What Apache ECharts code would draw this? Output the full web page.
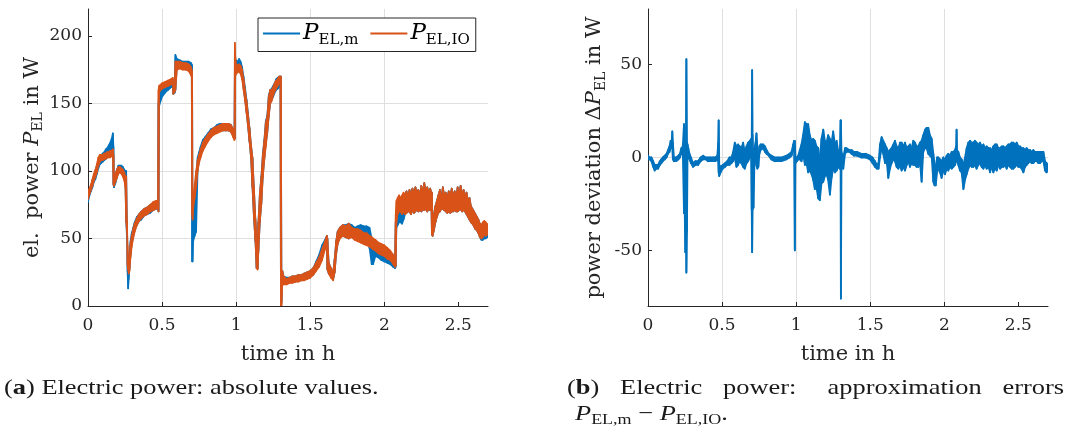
<!DOCTYPE html>
<html>
<head>
<meta charset="utf-8">
<script src="https://cdn.jsdelivr.net/npm/echarts@6/dist/echarts.min.js"></script>
<style>
  html, body { margin: 0; padding: 0; background: #ffffff; }
  #chart { width: 1075px; height: 444px; }
</style>
</head>
<body>
<div id="chart"></div>
<script>
// ---- (a) electric power, absolute values: lower/upper envelope of each noisy trace (W) ----
const hoursA = [
  0.000, 0.010, 0.020, 0.030, 0.040, 0.050, 0.060, 0.070, 0.080, 0.090,
  0.100, 0.110, 0.120, 0.130, 0.140, 0.150, 0.160, 0.168, 0.172, 0.175,
  0.185, 0.195, 0.205, 0.215, 0.225, 0.235, 0.245, 0.252, 0.258, 0.263,
  0.267, 0.271, 0.275, 0.280, 0.287, 0.295, 0.305, 0.315, 0.330, 0.345,
  0.360, 0.380, 0.400, 0.420, 0.440, 0.460, 0.472, 0.476, 0.480, 0.490,
  0.500, 0.520, 0.540, 0.560, 0.572, 0.576, 0.585, 0.590, 0.600, 0.620,
  0.640, 0.660, 0.680, 0.695, 0.700, 0.703, 0.706, 0.710, 0.720, 0.730,
  0.740, 0.750, 0.760, 0.775, 0.790, 0.810, 0.830, 0.850, 0.870, 0.890,
  0.910, 0.930, 0.950, 0.965, 0.980, 0.988, 0.991, 0.994, 1.000, 1.010,
  1.020, 1.030, 1.040, 1.050, 1.060, 1.070, 1.080, 1.090, 1.100, 1.110,
  1.120, 1.130, 1.138, 1.145, 1.150, 1.160, 1.170, 1.180, 1.190, 1.200,
  1.210, 1.220, 1.230, 1.240, 1.250, 1.260, 1.270, 1.280, 1.290, 1.298,
  1.302, 1.306, 1.312, 1.320, 1.340, 1.360, 1.380, 1.400, 1.420, 1.440,
  1.460, 1.480, 1.500, 1.520, 1.540, 1.560, 1.580, 1.600, 1.612, 1.616,
  1.625, 1.640, 1.655, 1.665, 1.675, 1.685, 1.700, 1.720, 1.740, 1.760,
  1.780, 1.800, 1.820, 1.840, 1.860, 1.880, 1.900, 1.915, 1.925, 1.940,
  1.960, 1.980, 2.000, 2.020, 2.040, 2.060, 2.072, 2.077, 2.082, 2.090,
  2.100, 2.110, 2.120, 2.130, 2.140, 2.150, 2.160, 2.170, 2.180, 2.190,
  2.200, 2.210, 2.220, 2.230, 2.240, 2.250, 2.260, 2.270, 2.280, 2.290,
  2.300, 2.310, 2.318, 2.321, 2.326, 2.335, 2.345, 2.355, 2.365, 2.375,
  2.385, 2.395, 2.405, 2.415, 2.425, 2.435, 2.445, 2.455, 2.465, 2.475,
  2.485, 2.495, 2.505, 2.515, 2.525, 2.535, 2.545, 2.555, 2.565, 2.575,
  2.585, 2.595, 2.605, 2.615, 2.625, 2.635, 2.645, 2.655, 2.665, 2.675,
  2.685, 2.695, 2.700
];

// P_EL,IO (model output)
const pIoLow = [
   79,  83,  86,  89,  93,  96,  99, 104, 107, 108,
  108, 109, 109, 110, 110, 110, 111, 111,  90,  89,
   92,  95,  98,  99,  98,  96,  93,  88,  62,  55,
   30,  27,  24,  26,  36,  44,  50,  55,  60,  63,
   65,  67,  68,  70,  71,  72,  73,  70, 158, 160,
  161, 162, 163, 164, 165, 157, 159, 160, 175, 176,
  175, 175, 174, 171, 170,  68,  64,  72,  80,  88,
  100, 106, 110, 115, 118, 122, 125, 127, 128, 129,
  130, 130, 130, 129, 125, 123, 124, 170, 172, 173,
  174, 172, 168, 160, 152, 143, 133, 122, 110,  88,
   65,  48,  28,  27,  40,  62,  75,  95, 108, 118,
  128, 140, 150, 152, 156, 159, 161, 163, 165, 166,
    0,   0,  17,  16,  16,  17,  17,  18,  18,  19,
   19,  20,  21,  23,  26,  29,  34,  42,  46,  27,
   24,  21,  19,  25,  38,  46,  50,  52,  51,  50,
   51,  49,  48,  47,  46,  45,  44,  43,  42,  41,
   39,  38,  37,  35,  34,  31,  29,  30,  62,  68,
   70,  70,  68,  70,  68,  69,  70,  70,  68,  71,
   69,  70,  72,  70,  71,  70,  72,  71,  72,  70,
   72,  71,  72,  53,  52,  56,  62,  66,  69,  70,
   72,  72,  71,  70,  69,  70,  69,  70,  70,  71,
   70,  70,  71,  72,  70,  71,  70,  68,  66,  64,
   62,  61,  59,  57,  56,  54,  51,  50,  51,  53,
   52,  53,  54
];
const pIoHigh = [
   84,  87,  90,  94,  98, 101, 105, 110, 112, 112,
  112, 113, 113, 114, 114, 115, 115, 116, 112,  95,
   98, 101, 103, 103, 102, 101,  99,  96,  96,  63,
   45,  35,  32,  36,  46,  52,  57,  61,  65,  68,
   70,  72,  73,  75,  77,  78,  78, 160, 163, 164,
  165, 166, 167, 168, 169, 161, 163, 181, 181, 181,
  180, 180, 179, 177, 175, 172,  74,  80,  90, 100,
  108, 112, 116, 121, 124, 127, 130, 132, 133, 134,
  135, 135, 135, 134, 131, 128, 195, 185, 179, 178,
  179, 178, 175, 168, 160, 152, 142, 132, 120, 110,
   88,  65,  50,  40,  62,  84,  95, 112, 122, 136,
  140, 155, 160, 160, 162, 165, 167, 168, 170, 170,
  170,  25,  26,  22,  20,  21,  22,  22,  23,  23,
   24,  25,  26,  28,  32,  36,  42,  48,  52,  50,
   32,  28,  25,  35,  48,  55,  58,  60,  59,  61,
   58,  57,  57,  56,  54,  54,  52,  51,  50,  49,
   47,  46,  45,  43,  41,  38,  35,  68,  78,  80,
   82,  80,  82,  84,  82,  85,  80,  86,  82,  87,
   83,  88,  84,  86,  82,  89,  84,  91,  85,  88,
   84,  87,  84,  84,  62,  68,  74,  78,  82,  86,
   80,  88,  82,  84,  80,  85,  82,  87,  81,  85,
   80,  88,  82,  89,  82,  86,  81,  84,  78,  80,
   74,  72,  70,  68,  66,  64,  61,  60,  62,  63,
   62,  60,  61
];

// P_EL,m (measurement)
const pMLow = [
   77,  82,  85,  88,  92,  94,  98, 102, 105, 106,
  107, 108, 109, 110, 112, 114, 115, 117,  90,  88,
   91,  95,  99, 100,  99,  97,  95,  92,  62,  50,
   25,  13,  20,  28,  38,  46,  51,  56,  60,  63,
   64,  67,  68,  69,  71,  72,  72,  70, 148, 152,
  155, 158, 160, 162, 163, 157, 158, 160, 177, 177,
  177, 177, 176, 174, 173,  33,  33,  48,  52,  55,
  100, 108, 112, 117, 120, 123, 126, 128, 129, 130,
  130, 130, 130, 129, 126, 124, 124, 172, 174, 176,
  177, 175, 170, 162, 153, 144, 133, 122, 110,  88,
   65,  48,  28,  28,  40,  62,  76,  96, 109, 120,
  128, 141, 150, 153, 155, 158, 160, 161, 162, 163,
    2,   2,  18,  17,  17,  18,  18,  18,  19,  19,
   20,  21,  22,  23,  27,  31,  36,  44,  47,  27,
   24,  22,  20,  25,  38,  46,  51,  52,  51,  50,
   52,  50,  50,  50,  52,  50,  43,  31,  31,  37,
   36,  34,  33,  32,  31,  29,  28,  29,  58,  60,
   62,  62,  61,  64,  68,  69,  70,  70,  68,  71,
   69,  70,  72,  70,  71,  70,  72,  71,  72,  70,
   72,  71,  72,  53,  52,  56,  62,  66,  69,  70,
   72,  72,  71,  70,  69,  70,  69,  70,  70,  71,
   70,  70,  71,  72,  70,  71,  70,  68,  66,  64,
   62,  61,  59,  57,  56,  54,  51,  49,  49,  50,
   50,  51,  51
];
const pMHigh = [
   82,  86,  89,  93,  97, 100, 104, 108, 110, 112,
  113, 114, 116, 117, 119, 121, 124, 128, 118,  94,
   97, 101, 104, 104, 104, 103, 101, 100, 100,  62,
   40,  30,  30,  38,  48,  54,  58,  62,  66,  68,
   70,  72,  73,  75,  76,  77,  77, 150, 160, 160,
  162, 164, 166, 167, 168, 160, 163, 186, 183, 182,
  181, 181, 181, 180, 179, 178,  58,  62,  75,  95,
  110, 114, 118, 123, 125, 128, 131, 132, 134, 135,
  135, 135, 135, 134, 131, 129, 180, 182, 182, 181,
  183, 181, 177, 170, 162, 153, 143, 132, 120, 110,
   88,  64,  50,  42,  62,  84,  96, 113, 123, 137,
  141, 156, 160, 161, 163, 165, 168, 169, 170, 170,
  170,  25,  26,  22,  21,  21,  22,  22,  23,  23,
   24,  25,  26,  28,  33,  38,  45,  49,  52,  50,
   32,  28,  25,  35,  48,  55,  58,  60,  60,  61,
   60,  58,  59,  60,  59,  59,  58,  50,  42,  46,
   44,  42,  41,  40,  38,  36,  34,  62,  68,  70,
   75,  78,  80,  82,  82,  85,  80,  86,  82,  87,
   83,  88,  84,  86,  82,  89,  84,  91,  85,  88,
   84,  87,  84,  84,  62,  68,  74,  78,  82,  86,
   80,  88,  82,  84,  80,  85,  82,  87,  81,  85,
   80,  88,  82,  89,  82,  86,  81,  84,  78,  80,
   74,  72,  70,  68,  66,  64,  61,  59,  58,  58,
   57,  56,  57
];

// ---- (b) approximation error P_EL,m - P_EL,IO: lower/upper envelope (W) ----
const hoursB = [
  0.000, 0.012, 0.023, 0.035, 0.045, 0.056, 0.068, 0.080, 0.090, 0.100,
  0.113, 0.125, 0.135, 0.145, 0.153, 0.160, 0.164, 0.168, 0.175, 0.190,
  0.205, 0.215, 0.225, 0.235, 0.243, 0.248, 0.252, 0.256, 0.259, 0.263,
  0.267, 0.272, 0.280, 0.290, 0.304, 0.320, 0.338, 0.355, 0.372, 0.390,
  0.405, 0.420, 0.440, 0.455, 0.468, 0.474, 0.477, 0.481, 0.490, 0.505,
  0.520, 0.535, 0.550, 0.563, 0.575, 0.586, 0.597, 0.608, 0.619, 0.630,
  0.642, 0.653, 0.665, 0.676, 0.688, 0.696, 0.700, 0.703, 0.706, 0.712,
  0.718, 0.726, 0.732, 0.738, 0.745, 0.752, 0.760, 0.777, 0.790, 0.800,
  0.815, 0.833, 0.855, 0.878, 0.900, 0.935, 0.955, 0.969, 0.980, 0.986,
  0.991, 0.995, 1.005, 1.014, 1.025, 1.036, 1.047, 1.059, 1.070, 1.081,
  1.092, 1.104, 1.115, 1.126, 1.137, 1.149, 1.160, 1.171, 1.183, 1.194,
  1.205, 1.216, 1.228, 1.239, 1.250, 1.262, 1.273, 1.285, 1.295, 1.300,
  1.302, 1.306, 1.318, 1.330, 1.340, 1.360, 1.374, 1.390, 1.410, 1.440,
  1.470, 1.498, 1.515, 1.532, 1.545, 1.556, 1.566, 1.577, 1.588, 1.600,
  1.611, 1.622, 1.633, 1.644, 1.656, 1.667, 1.678, 1.690, 1.701, 1.712,
  1.723, 1.735, 1.746, 1.757, 1.768, 1.780, 1.791, 1.802, 1.813, 1.825,
  1.836, 1.847, 1.858, 1.870, 1.881, 1.892, 1.903, 1.915, 1.926, 1.934,
  1.942, 1.951, 1.960, 1.971, 1.982, 1.993, 2.005, 2.016, 2.027, 2.038,
  2.050, 2.061, 2.072, 2.080, 2.083, 2.086, 2.095, 2.106, 2.117, 2.129,
  2.140, 2.151, 2.162, 2.174, 2.185, 2.196, 2.207, 2.218, 2.230, 2.241,
  2.252, 2.264, 2.275, 2.286, 2.298, 2.309, 2.320, 2.331, 2.342, 2.354,
  2.365, 2.377, 2.388, 2.399, 2.410, 2.421, 2.432, 2.444, 2.455, 2.466,
  2.477, 2.489, 2.500, 2.511, 2.522, 2.534, 2.545, 2.556, 2.567, 2.579,
  2.590, 2.601, 2.612, 2.624, 2.635, 2.646, 2.658, 2.669, 2.680, 2.690,
  2.700
];
const devLow = [
   -1,  -1,  -2,  -5,  -7,  -6,  -6,  -4,  -3,  -2,
   -1,   0,   2,   3,   5,   6,   5,  -1,  -2,  -2,
   -1,   0,   2,   3, -30, -30, -51, -20, -62, -40,
    2,   0,  -1,  -3,  -5,  -4,  -4,  -2,  -1,  -1,
   -2,  -2,  -2,  -2,  -1,  -2,  -8, -10,  -8,  -6,
   -5,  -4,  -4,  -3,  -2,   0,  -5,  -4,  -2,  -3,
   -5,  -6,  -3,  -2,   0,   2, -28, -51, -28, -27,
   -5,   0,  -4,  -6,  -5,   2,   4,   5,   3,   2,
    1,  -1,  -2,  -2,  -2,  -1,   0,   1,   4,   7,
  -50,  -3,  -2,  -1,  -1,  -2,   2,  -4,  -3,  -8,
   -7,  -9, -12, -17, -16, -22, -23, -14, -13, -10,
   -9, -12, -20, -11,  -6,  -8,  -7,  -5,  -6,  -5,
  -76,  -6,  -6,   2,   3,   3,   2,   1,   1,   0,
    0,  -1,  -3,  -5,  -6,  -6,   0,   5,   2,  -3,
   -2, -11,  -6,  -3,  -1,  -2,  -5,  -6,  -4,  -7,
   -5,  -7,  -4,  -2,  -5,  -3,  -4,  -4,  -5,  -5,
   -3, -13,   3,   5,   5,   2,   1,   0, -13, -15,
  -15,  -8,  -6,  -8, -11,  -7,  -9,  -6,  -7,  -5,
   -6,  -5,  -4,  -2,  -2,  -2,  -4,  -7,  -8, -17,
  -12,  -9,  -6,  -4,  -5,  -5,  -4,  -6,  -4,  -3,
   -5,  -6,  -4,  -6,  -5,  -8,  -5,  -8,  -6,  -7,
   -4,  -6,  -5,  -5,  -4,  -6,  -4,  -5,  -6,  -6,
   -5,  -4,  -5,  -5,  -6,  -8,  -5,  -4,  -3,  -2,
   -3,  -3,  -2,  -2,  -3,  -3,  -2,  -2,  -7,  -8,
   -7
];
const devHigh = [
    1,   0,   0,  -2,  -4,  -4,  -4,  -2,  -1,   0,
    1,   2,   4,   6,   9,   9,  14,   8,   0,   0,
    1,   2,   5,   6,  18,   2,   3,   6,  53,   8,
    7,   5,   2,   0,  -3,  -2,  -2,   0,   1,   0,
    0,   0,   0,   0,   1,   8,  20,  -4,  -5,  -4,
   -3,  -2,   0,   0,   3,   8,   6,   7,   6,   5,
    8,   3,   6,   8,   9,  10,  10,  47,  12, -10,
    5,   8,  13,   6,  -2,   6,   7,   7,   6,   4,
    2,   1,   0,   0,   0,   1,   2,   3,   7,   9,
    9,   0,   0,   1,   4,   7,  12,  19,  18,  18,
   12,   9,  10,   9,   6,   5,  -2,  10,  15,   9,
    8,  12,  10,   8,  14,   7,   9,   3,   2,  20,
   20,   3,   0,   5,   5,   4,   4,   3,   3,   2,
    2,   1,   0,  -2,  -4,  -3,   7,  11,   9,   7,
    5,   3,   4,   5,   7,   9,   6,   5,   8,   8,
    6,   8,   5,   6,   7,   5,   9,   8,   6,   6,
    8,   9,  12,  15,  16,  16,  12,  10,   2,  -3,
   -6,   0,   0,  -1,  -2,   0,  -1,   1,   2,   1,
    3,   3,   4,   6,  15,   4,   3,   0,  -1,  -4,
    0,   5,   8,   9,   8,   8,   9,   8,   7,   8,
    6,   7,   5,   6,   5,   5,   4,   6,   7,   7,
    5,   5,   6,   6,   5,   6,   7,   7,   8,   8,
    7,   8,   6,   6,   5,   5,   4,   5,   4,   4,
    3,   4,   3,   3,   3,   3,   3,   3,  -2,  -3,
   -4
];

// ---- axis ticks ----
const timeTicks = [0, 0.5, 1, 1.5, 2, 2.5];
const powerTicks = [0, 50, 100, 150, 200];
const devTicks = [-50, 0, 50];

// ---- styling ----
const BLUE = '#0072BD';
const ORANGE = '#D95319';
const INK = '#262626';
const GRID = '#dfdfdf';
const AXIS_FONT = 'DejaVu Serif';
const CAP_FONT = 'Liberation Serif';
const CAP_SIZE = 22;
const CAP_SCALE = 1.2;

const nameRich = {
  p: { fontFamily: AXIS_FONT, fontStyle: 'italic', fontSize: 21, lineHeight: 26, color: INK },
  s: { fontFamily: AXIS_FONT, fontSize: 14, lineHeight: 16, verticalAlign: 'bottom', color: INK }
};

// A noisy trace: each stamp-to-stamp step is a quad spanning the lower and
// upper envelope, stroked so that calm stretches still read as a line.
function envelopeSeries(name, color, hours, low, high, axisIndex, width) {
  const steps = [];
  for (let i = 0; i < hours.length - 1; i++) {
    steps.push([hours[i], low[i], high[i], hours[i + 1], low[i + 1], high[i + 1]]);
  }
  return {
    type: 'custom', name, xAxisIndex: axisIndex, yAxisIndex: axisIndex,
    data: steps, encode: { x: [0, 3], y: [1, 2, 4, 5] },
    color, itemStyle: { color }, silent: true, animation: false, clip: true,
    renderItem: (params, api) => ({
      type: 'polygon',
      shape: {
        points: [
          api.coord([api.value(0), api.value(1)]),
          api.coord([api.value(3), api.value(4)]),
          api.coord([api.value(3), api.value(5)]),
          api.coord([api.value(0), api.value(2)])
        ]
      },
      style: { fill: color, stroke: color, lineWidth: width, lineJoin: 'round' }
    })
  };
}

function xAxisFor(gridIndex) {
  return {
    type: 'value', gridIndex, min: 0, max: 2.7, interval: 0.5,
    name: 'time in h', nameLocation: 'middle', nameGap: 38,
    nameTextStyle: { fontFamily: AXIS_FONT, fontSize: 21, color: INK },
    axisLine: { show: true, onZero: false, lineStyle: { color: INK, width: 1 } },
    axisTick: { show: true, inside: true, length: 4, customValues: timeTicks, lineStyle: { color: INK } },
    axisLabel: { customValues: timeTicks, margin: 11, fontFamily: AXIS_FONT, fontSize: 17, color: INK },
    splitLine: { show: true, showMinLine: false, showMaxLine: false, lineStyle: { color: GRID, width: 1 } }
  };
}

function yAxisCommon() {
  return {
    type: 'value', nameLocation: 'middle',
    axisLine: { show: true, onZero: false, lineStyle: { color: INK, width: 1 } },
    axisLabel: { margin: 6, fontFamily: AXIS_FONT, fontSize: 17, color: INK },
    splitLine: { show: true, showMinLine: false, showMaxLine: false, lineStyle: { color: GRID, width: 1 } }
  };
}

const yPower = Object.assign(yAxisCommon(), {
  gridIndex: 0, min: 0, max: 220, interval: 50,
  name: 'el.  power {p|P}{s|EL} in W', nameGap: 42,
  nameTextStyle: { fontFamily: AXIS_FONT, fontSize: 21, color: INK, rich: nameRich },
  axisTick: { show: true, inside: true, length: 4, customValues: powerTicks, lineStyle: { color: INK } }
});
yPower.axisLabel = Object.assign({}, yPower.axisLabel, { customValues: powerTicks });

const yDev = Object.assign(yAxisCommon(), {
  gridIndex: 1, min: -80, max: 80, splitNumber: 3,
  name: 'power deviation Δ{p|P}{s|EL} in W', nameGap: 40,
  nameTextStyle: { fontFamily: AXIS_FONT, fontSize: 21, color: INK, rich: nameRich },
  axisTick: { show: true, inside: true, length: 4, customValues: devTicks, lineStyle: { color: INK } }
});
yDev.axisLabel = Object.assign({}, yDev.axisLabel, { customValues: devTicks });

// ---- captions ----
const measureCtx = document.createElement('canvas').getContext('2d');
function textWidth(str, weight) {
  measureCtx.font = (weight || 'normal') + ' ' + CAP_SIZE + 'px "' + CAP_FONT + '"';
  return measureCtx.measureText(str).width * CAP_SCALE;
}
const capRich = {
  b: { fontFamily: CAP_FONT, fontSize: CAP_SIZE, fontWeight: 'bold', fill: '#1a1a1a' },
  i: { fontFamily: CAP_FONT, fontSize: CAP_SIZE, fontStyle: 'italic', lineHeight: 26, fill: '#1a1a1a' },
  s: { fontFamily: CAP_FONT, fontSize: 15, lineHeight: 16, verticalAlign: 'bottom', fill: '#1a1a1a' }
};
function caption(text, x, y) {
  return {
    type: 'text', x, y, scaleX: CAP_SCALE, silent: true,
    style: {
      text, fontFamily: CAP_FONT, fontSize: CAP_SIZE, fill: '#1a1a1a',
      align: 'left', verticalAlign: 'middle', rich: capRich
    }
  };
}

// first line of caption (b) is justified between two margins
const lineB = [
  { text: '({b|b})', width: textWidth('()') + textWidth('b', 'bold') },
  { text: 'Electric', width: textWidth('Electric') },
  { text: 'power:', width: textWidth('power:') },
  { text: 'approximation', width: textWidth('approximation') },
  { text: 'errors', width: textWidth('errors') }
];
const gapWeights = [1, 1, 1.5, 1];
const lineLeft = 567, lineRight = 1064;
const usedWidth = lineB.reduce((s, w) => s + w.width, 0);
const unitGap = (lineRight - lineLeft - usedWidth) / gapWeights.reduce((s, g) => s + g, 0);
const captionB = [];
let cursor = lineLeft;
lineB.forEach((w, i) => {
  captionB.push(caption(w.text, cursor, 388.5));
  cursor += w.width + (i < gapWeights.length ? gapWeights[i] * unitGap : 0);
});

const chart = echarts.init(document.getElementById('chart'), null, { renderer: 'canvas' });
chart.setOption({
  animation: false,
  backgroundColor: '#ffffff',
  textStyle: { fontFamily: AXIS_FONT },
  grid: [
    { left: 88, top: 9, width: 400, height: 297 },
    { left: 648, top: 9, width: 400, height: 297 }
  ],
  xAxis: [xAxisFor(0), xAxisFor(1)],
  yAxis: [yPower, yDev],
  legend: {
    left: 258, top: 18, orient: 'horizontal',
    data: ['P_EL,m', 'P_EL,IO'],
    selectedMode: false,
    icon: 'rect', itemWidth: 37, itemHeight: 2, itemGap: 12,
    padding: [4, 6, 4, 5],
    backgroundColor: '#ffffff', borderColor: INK, borderWidth: 1, borderRadius: 0,
    formatter: name => '{p|P}{s|' + name.slice(2) + '}',
    textStyle: {
      padding: [0, 0, 0, -2],
      rich: {
        p: { fontFamily: AXIS_FONT, fontStyle: 'italic', fontSize: 23, lineHeight: 28, color: '#000' },
        s: { fontFamily: AXIS_FONT, fontSize: 15, lineHeight: 17, verticalAlign: 'bottom', color: '#000' }
      }
    }
  },
  series: [
    envelopeSeries('P_EL,m', BLUE, hoursA, pMLow, pMHigh, 0, 1.6),
    envelopeSeries('P_EL,IO', ORANGE, hoursA, pIoLow, pIoHigh, 0, 1.6),
    envelopeSeries('ΔP_EL', BLUE, hoursB, devLow, devHigh, 1, 1.8)
  ],
  graphic: [
    caption('({b|a}) Electric power: absolute values.', 4, 388.5),
    ...captionB,
    caption('{i|P}{s|EL,m} − {i|P}{s|EL,IO}.', 575, 414.5)
  ]
});
</script>
</body>
</html>
